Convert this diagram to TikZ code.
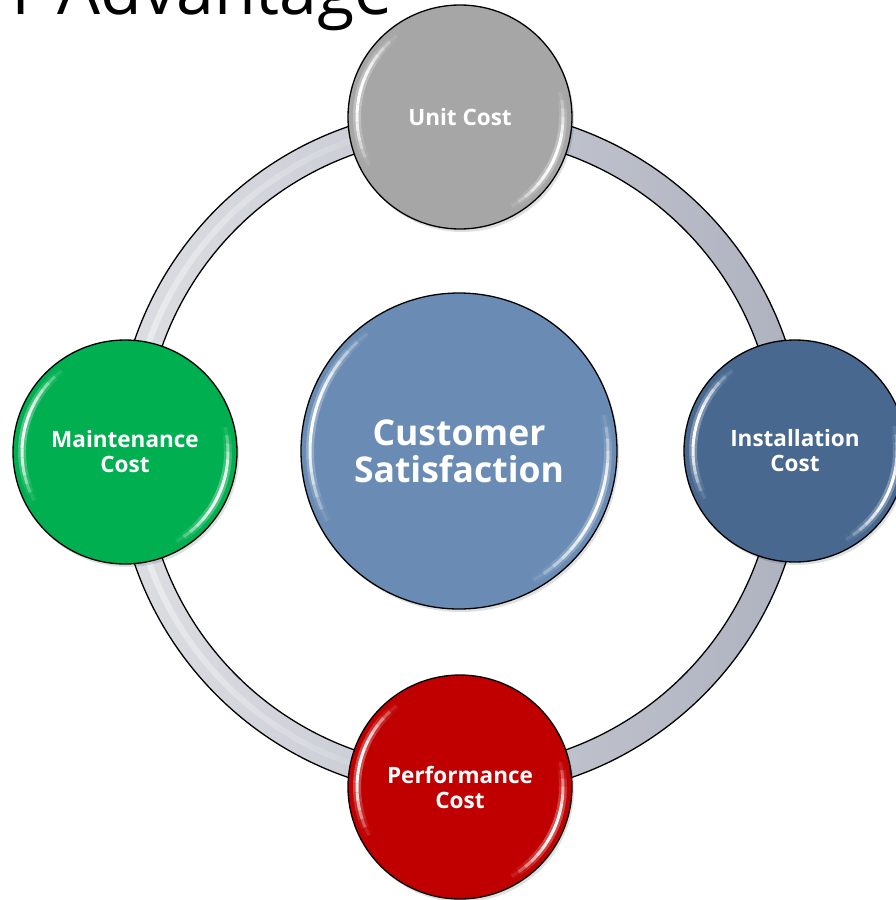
\documentclass[tikz,border=0pt]{standalone}
\usepackage{fontspec}
\setmainfont{Open Sans}
\definecolor{unitgray}{HTML}{A6A6A6}
\definecolor{instblue}{HTML}{486890}
\definecolor{maintgreen}{HTML}{00B050}
\definecolor{perfred}{HTML}{C00000}
\definecolor{centerblue}{HTML}{6A8CB4}
\definecolor{ringL}{HTML}{DCDEE3}
\definecolor{ringR}{HTML}{AEB2BF}
\tikzset{
  ball/.style={circle, draw=black, line width=1.3pt, inner sep=0pt, text=white,
    align=center, font=\bfseries\fontsize{22.5}{25}\selectfont},
  bigball/.style={ball, font=\bfseries\fontsize{35.5}{37}\selectfont},
  ringline/.style={draw=black, line width=1.3pt},
  titletext/.style={font=\fontsize{68}{70}\selectfont, text=black, inner sep=0pt}
}
\newcommand\gloss[2]{%
  \foreach \s/\e in {128/208, -60/14} {
    \foreach \k in {0,...,15} {
      \pgfmathsetmacro\aa{\s+(\e-\s)*\k/16}
      \pgfmathsetmacro\bb{\s+(\e-\s)*(\k+1)/16}
      \pgfmathsetmacro\op{sin(180*(\k+0.5)/16)}
      \draw[white, line width=8pt, opacity=0.3*\op, shift={(#1.center)}]
        (\aa:#2pt-9pt) arc[start angle=\aa, end angle=\bb, radius=#2pt-9pt];
      \draw[white, line width=3pt, opacity=\op, shift={(#1.center)}]
        (\aa:#2pt-9pt) arc[start angle=\aa, end angle=\bb, radius=#2pt-9pt];
    }
  }%
}
\newcommand\gball[7]{%
  \fill[black, opacity=0.12] (#2+2,#3+3) circle[radius=#4pt];
  \node[#7, minimum size=2*#4pt, fill=#5] (#1) at (#2,#3) {#6};
  \gloss{#1}{#4}%
}
\begin{document}
\begin{tikzpicture}[x=1pt,y=-1pt]
\useasboundingbox (0,0) rectangle (896,900);
\clip (0,0) rectangle (896,900);
\fill[white] (0,0) rectangle (896,900);
% title (cut off at the top, as in the reference)
\node[titletext, anchor=base west] (title) at (12,14) {r Advantage};
% ring
\coordinate (rc) at (460,452);
\shade[even odd rule, left color=ringL, right color=ringR, shading angle=90]
  (rc) circle[radius=344pt] (rc) circle[radius=316pt];
\foreach \k in {0,...,29} {
  \pgfmathsetmacro\aa{95+170*\k/30}
  \pgfmathsetmacro\bb{95+170*(\k+1)/30}
  \pgfmathsetmacro\op{sin(180*(\k+0.5)/30)}
  \draw[white, line width=6pt, opacity=0.45*\op, shift={(rc)}]
    (\aa:330pt) arc[start angle=\aa, end angle=\bb, radius=330pt];
}
\draw[ringline] (rc) circle[radius=344pt];
\draw[ringline] (rc) circle[radius=316pt];
% balls
\gball{center}{459}{451}{158}{centerblue}{Customer\\Satisfaction}{bigball}
\gball{unit}{460}{117}{112}{unitgray}{Unit Cost}{ball}
\gball{inst}{795}{451}{111}{instblue}{Installation\\Cost}{ball}
\gball{maint}{125}{452}{112}{maintgreen}{Maintenance\\Cost}{ball}
\gball{perf}{460}{787}{112}{perfred}{Performance\\Cost}{ball}
\end{tikzpicture}
\end{document}
